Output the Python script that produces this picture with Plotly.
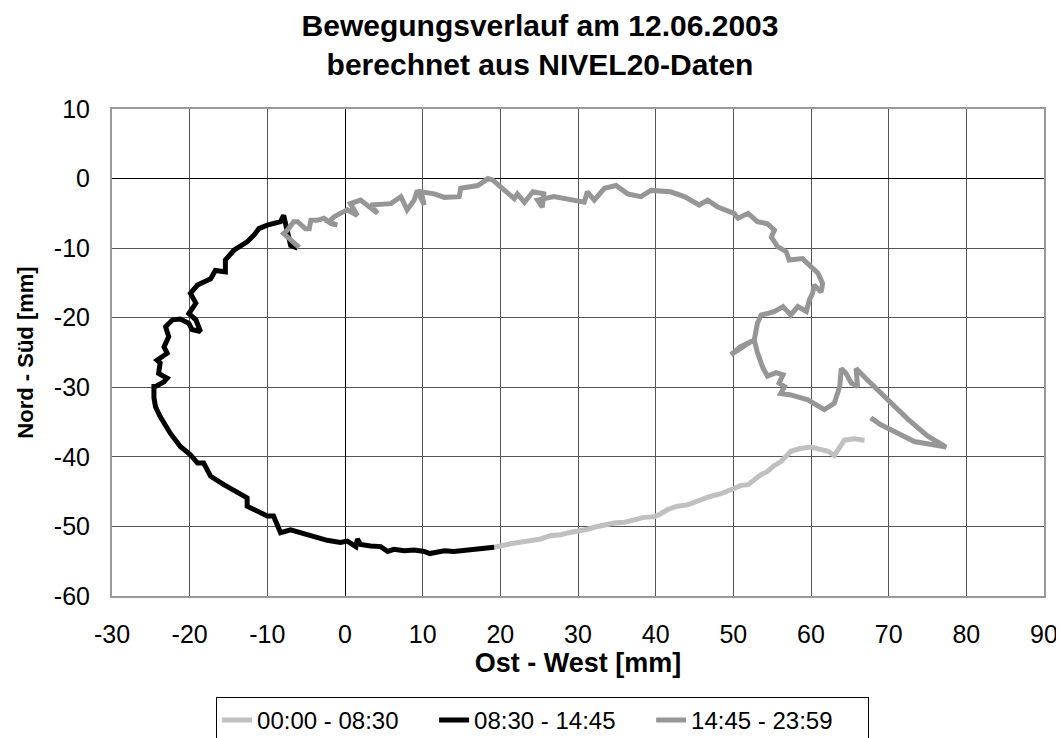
import plotly.graph_objects as go

# Series 1: 00:00 - 08:30 (light grey)
s1_x = [66.9, 65.5, 64.3, 63.7, 63.0, 62.2, 61.0, 60.0, 58.6, 57.4, 56.8, 56.1, 55.2, 54.4, 53.5, 52.7, 51.9, 51.0, 50.1,
        49.2, 48.4, 47.0, 45.8, 45.0, 44.1, 42.8, 41.5, 40.6, 39.8, 38.5, 37.2, 36.0, 34.7, 33.6, 32.5, 31.2,
        29.9, 28.8, 27.8, 26.5, 25.2, 23.9, 22.6, 21.3, 20.1, 19.2]
s1_y = [-37.6, -37.4, -37.6, -38.7, -39.8, -39.2, -38.9, -38.6, -38.8, -39.2, -39.9, -40.7, -41.3, -42.1, -42.6, -43.3, -44.0, -44.1, -44.5,
        -45.0, -45.3, -45.7, -46.2, -46.4, -46.9, -47.1, -47.6, -48.2, -48.6, -48.7, -49.0, -49.4, -49.5, -49.7, -50.0, -50.4,
        -50.6, -50.9, -51.2, -51.3, -51.8, -52.0, -52.3, -52.5, -52.8, -53.0]

# Series 2: 08:30 - 14:45 (black)
s2_x = [19.2, 18.2, 17.1, 15.6, 14.0, 12.8, 11.5, 10.9, 10.2, 8.9, 7.6, 6.3, 5.5, 4.6, 3.3, 2.0, 1.6, 1.4, 0.3, -0.6,
        -2.3, -4.0, -5.7, -7.0, -8.3, -8.7, -9.2, -10.0, -11.3, -12.6, -12.6, -14.3, -15.6, -17.3, -18.2, -19.0,
        -19.9, -21.2, -22.5, -23.8, -24.4, -24.6, -24.6, -24.4, -23.3, -22.9, -24.0, -23.8, -24.2, -22.9, -23.3,
        -22.7, -23.1, -22.2, -21.2, -20.1, -19.7, -18.6, -19.2, -20.1, -19.2, -19.9, -19.0, -17.3, -16.7, -15.4,
        -15.4, -14.3, -12.6, -11.7, -11.1, -10.0, -8.3, -7.9, -7.6, -7.2, -7.0, -6.1]
s2_y = [-53.0, -53.1, -53.3, -53.4, -53.6, -53.5, -53.7, -53.9, -53.6, -53.4, -53.5, -53.3, -53.6, -52.9, -52.8, -52.6, -51.8, -52.9, -52.1, -52.3,
        -52.0, -51.5, -50.9, -50.5, -50.9, -50.0, -48.5, -48.5, -47.8, -47.1, -45.9, -44.9, -44.0, -42.8, -40.9, -40.9,
        -39.7, -38.5, -36.6, -34.2, -32.8, -31.5, -29.9, -29.9, -29.2, -28.7, -28.0, -26.5, -26.1, -25.1, -24.2,
        -22.7, -21.3, -20.3, -20.2, -20.8, -21.7, -22.0, -20.3, -19.4, -17.9, -16.5, -15.3, -14.4, -13.2, -13.4,
        -11.7, -10.3, -9.1, -8.1, -7.2, -6.7, -6.2, -5.3, -6.7, -7.9, -9.6, -10.0]

# Series 3: 14:45 - 23:59 (dark grey)
s3_x = [-5.9, -7.4, -7.9, -7.4, -6.6, -6.1, -5.1, -4.6, -4.4, -3.6, -2.7, -1.8, -1.0, -2.1, -1.4, -0.6, 0.3, 1.6, 0.7,
        2.0, 4.2, 3.3, 5.9, 7.2, 8.0, 8.9, 9.3, 10.2, 9.8, 11.5, 12.8, 14.7, 14.9, 17.1, 18.4, 19.0, 20.5, 21.8,
        22.2, 23.1, 24.2, 25.6, 25.4, 24.8, 26.9, 29.1, 30.8, 31.2, 32.1, 33.4, 34.9, 36.4, 38.1, 39.4, 41.9,
        43.7, 45.6, 46.7, 48.0, 50.1, 50.6, 51.9, 53.1, 54.4, 55.3, 54.9, 55.7, 56.8, 57.2, 58.9, 60.0, 60.9,
        61.5, 61.3, 60.4, 60.2, 59.8, 59.4, 58.3, 57.4, 56.4, 55.3, 54.4, 53.6, 53.1, 52.9, 52.7, 51.6, 50.6,
        49.7, 50.9, 52.7, 53.1, 53.8, 54.4, 55.5, 56.4, 55.9, 56.6, 56.1, 57.4, 59.6, 61.7, 63.0, 63.7, 63.9,
        64.5, 65.2, 66.0, 65.8, 67.3, 69.9, 72.5, 75.0, 77.4, 75.9, 73.3, 70.8, 69.0, 67.7]
s3_y = [-9.9, -8.4, -7.9, -7.4, -6.2, -6.2, -7.2, -7.2, -6.0, -6.0, -5.7, -6.5, -6.7, -6.2, -5.5, -5.0, -4.5, -5.3, -3.6,
        -3.1, -5.0, -3.8, -3.6, -2.6, -4.5, -3.1, -1.7, -3.8, -1.9, -2.2, -2.7, -2.6, -1.4, -1.0, 0.0, -0.2, -1.7, -2.9,
        -2.2, -3.4, -1.9, -2.2, -4.1, -3.1, -2.6, -3.1, -3.4, -1.9, -3.1, -1.4, -1.0, -2.2, -2.6, -1.7, -1.9,
        -2.6, -3.8, -3.1, -4.1, -5.0, -5.7, -5.0, -6.2, -6.5, -7.4, -8.4, -9.8, -10.5, -11.7, -11.5, -12.7, -13.6,
        -15.1, -16.3, -15.3, -16.5, -17.4, -19.1, -18.4, -19.6, -18.4, -19.1, -19.4, -19.6, -20.8, -22.2, -23.2, -23.9, -24.6,
        -25.3, -24.2, -23.2, -25.0, -27.2, -28.4, -27.9, -28.2, -29.4, -29.9, -30.9, -31.1, -31.8, -33.2, -32.3, -29.9, -27.3,
        -28.0, -29.4, -29.9, -27.3, -29.0, -31.8, -34.6, -37.0, -38.6, -38.3, -37.8, -36.4, -35.4, -34.4]

series_names = ["00:00 - 08:30", "08:30 - 14:45", "14:45 - 23:59"]
series_colors = ["#c0c0c0", "#000000", "#969696"]

x_ticks = list(range(-30, 91, 10))
y_ticks = list(range(-60, 11, 10))
x_ticktext = [str(v) for v in x_ticks]
y_ticktext = [str(v) for v in y_ticks]

font_family = "Liberation Sans, Arial, sans-serif"

fig = go.Figure()
for xs, ys, name, col in zip([s1_x, s2_x, s3_x], [s1_y, s2_y, s3_y], series_names, series_colors):
    fig.add_trace(go.Scatter(x=xs, y=ys, mode="lines", name=name,
                             line=dict(color=col, width=5)))

fig.update_layout(
    width=1064, height=738,
    plot_bgcolor="white", paper_bgcolor="white",
    margin=dict(l=104, r=28, t=101, b=150, autoexpand=False),
    font=dict(family=font_family, size=25, color="black"),
    title=dict(text="<b>Bewegungsverlauf am 12.06.2003<br>berechnet aus NIVEL20-Daten</b>",
               x=0.5, xref="container", xanchor="center", y=0.962, yref="container", yanchor="middle",
               font=dict(size=30, family=font_family, color="black")),
    showlegend=True,
    legend=dict(orientation="h", x=0.462, xanchor="center", y=-0.207, yanchor="top",
                bordercolor="black", borderwidth=1, font=dict(size=24),
                itemwidth=30, tracegroupgap=0, entrywidth=172),
)
fig.update_xaxes(range=[-30, 90], tickvals=x_ticks, ticktext=x_ticktext, showgrid=True, gridcolor="#555555", gridwidth=1,
                 zeroline=True, zerolinecolor="black", zerolinewidth=1,
                 showline=True, linecolor="#999999", linewidth=2, mirror=True, ticks="",
                 tickfont=dict(size=25), ticklabelstandoff=15,
                 title=dict(text="<b>Ost - West [mm]</b>", font=dict(size=27), standoff=6))
fig.update_yaxes(range=[-60, 10], tickvals=y_ticks, ticktext=y_ticktext, showgrid=True, gridcolor="#555555", gridwidth=1,
                 zeroline=True, zerolinecolor="black", zerolinewidth=1,
                 showline=True, linecolor="#999999", linewidth=2, mirror=True, ticks="",
                 tickfont=dict(size=25), ticklabelstandoff=15,
                 title=dict(text="<b>Nord - Süd [mm]</b>", font=dict(size=22), standoff=14))

fig.write_html("out.html")
